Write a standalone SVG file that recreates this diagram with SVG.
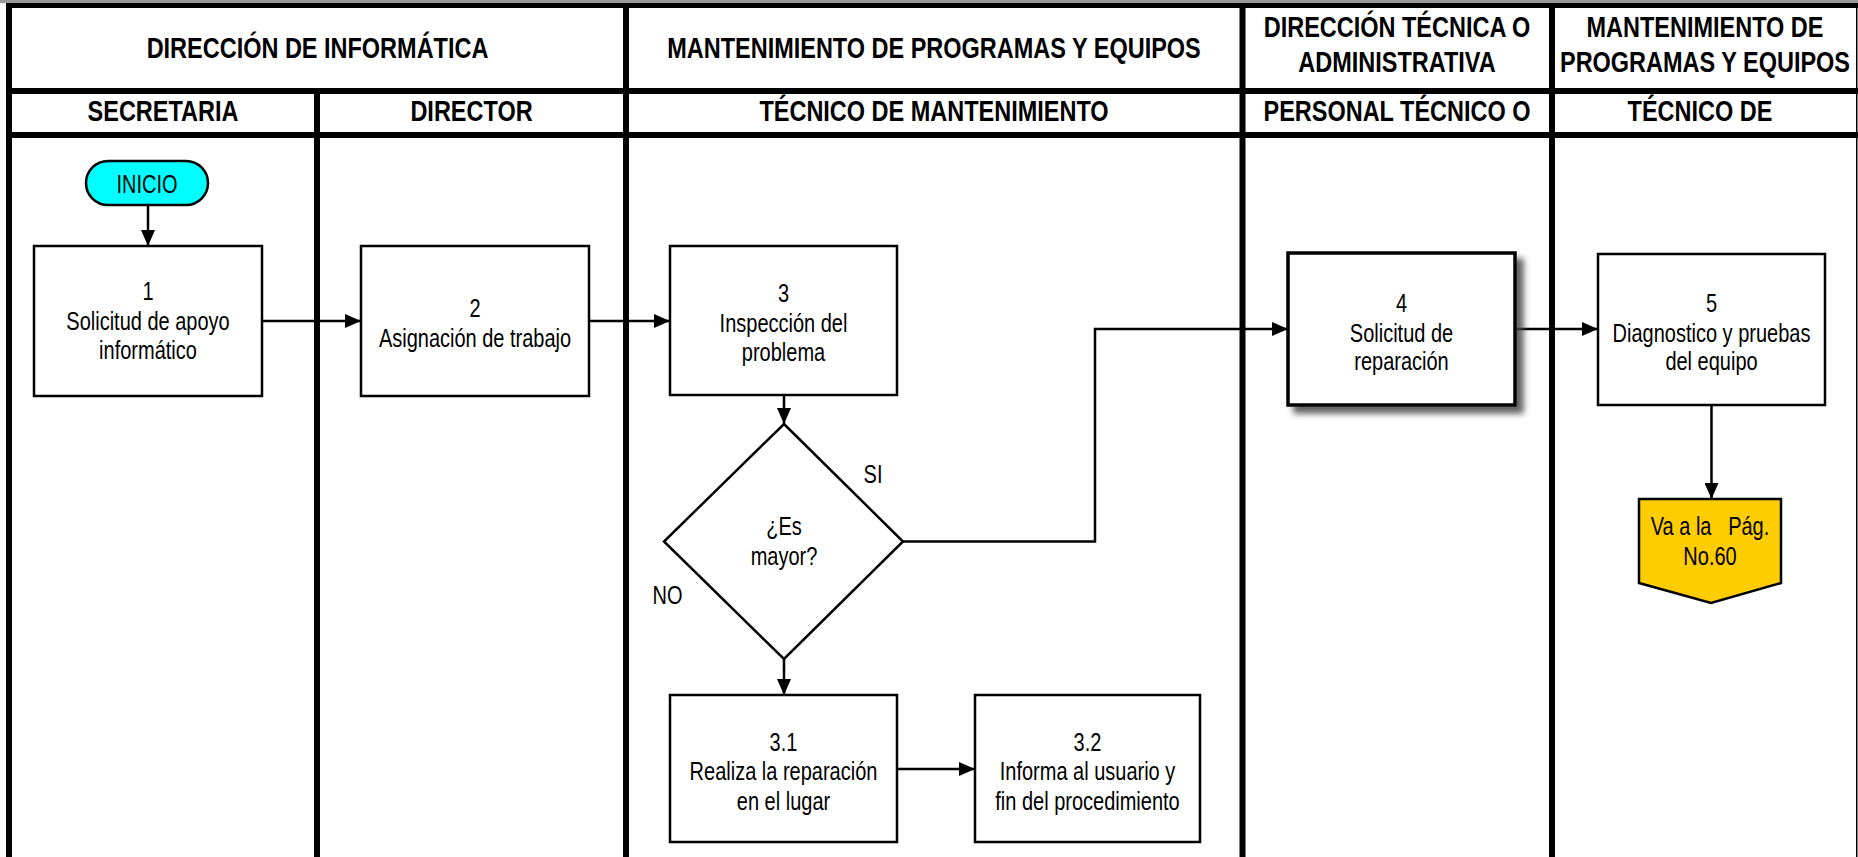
<svg xmlns="http://www.w3.org/2000/svg" width="1858" height="857" viewBox="0 0 1858 857">
<style>
.t{font-family:"Liberation Sans",Arial,sans-serif;font-size:25px;fill:#000;text-anchor:middle}
.h{font-family:"Liberation Sans",Arial,sans-serif;font-size:29px;font-weight:bold;fill:#000;text-anchor:middle}
.box{fill:#fff;stroke:#000;stroke-width:2.5}
.ln{fill:#000}
.c{fill:none;stroke:#000;stroke-width:2.5}
.ca{fill:none;stroke:#000;stroke-width:2.5;marker-end:url(#ah)}
</style>
<defs>
<marker id="ah" viewBox="0 0 16 14" refX="16" refY="7" markerWidth="16" markerHeight="14" markerUnits="userSpaceOnUse" orient="auto">
<path d="M0,0 L16,7 L0,14 z" fill="#000"/>
</marker>
<filter id="sh" x="-10%" y="-10%" width="130%" height="130%">
<feDropShadow dx="7" dy="7" stdDeviation="3" flood-color="#444" flood-opacity="0.85"/>
</filter>
</defs>
<rect width="1858" height="857" fill="#fff"/>
<g id="grid">
<rect x="0" y="0" width="1858" height="3" fill="#999"/>
<rect class="ln" x="6" y="3" width="1852" height="5"/>
<rect class="ln" x="6" y="88" width="1852" height="6"/>
<rect class="ln" x="6" y="132" width="1852" height="6"/>
<rect class="ln" x="6" y="3" width="6" height="854"/>
<rect class="ln" x="314" y="88" width="6" height="769"/>
<rect class="ln" x="623" y="3" width="6" height="854"/>
<rect class="ln" x="1239.5" y="3" width="6" height="854"/>
<rect class="ln" x="1549" y="3" width="6" height="854"/>
<rect class="ln" x="1856" y="3" width="1.5" height="854"/>
</g>
<g id="headers">
<text class="h" transform="translate(317.5,58) scale(.81,1)">DIRECCIÓN DE INFORMÁTICA</text>
<text class="h" transform="translate(934,58) scale(.81,1)">MANTENIMIENTO DE PROGRAMAS Y EQUIPOS</text>
<text class="h" transform="translate(1397,37) scale(.81,1)"><tspan x="0" y="0">DIRECCIÓN TÉCNICA O</tspan><tspan x="0" y="35">ADMINISTRATIVA</tspan></text>
<text class="h" transform="translate(1705,37) scale(.81,1)"><tspan x="0" y="0">MANTENIMIENTO DE</tspan><tspan x="0" y="35">PROGRAMAS Y EQUIPOS</tspan></text>
<text class="h" transform="translate(163,121) scale(.81,1)">SECRETARIA</text>
<text class="h" transform="translate(471.5,121) scale(.81,1)">DIRECTOR</text>
<text class="h" transform="translate(934,121) scale(.81,1)">TÉCNICO DE MANTENIMIENTO</text>
<text class="h" transform="translate(1397,121) scale(.81,1)">PERSONAL TÉCNICO O</text>
<text class="h" transform="translate(1700,121) scale(.81,1)">TÉCNICO DE</text>
</g>
<g id="connectors">
<path class="ca" d="M148,205 V246"/>
<path class="ca" d="M262,321 H361"/>
<path class="ca" d="M589,321 H670"/>
<path class="ca" d="M784,395 V424"/>
<path class="ca" d="M903,541.5 H1095 V329 H1288"/>
<path class="ca" d="M784,659 V695"/>
<path class="ca" d="M897,769 H975"/>
<path class="ca" d="M1515,329 H1598"/>
<path class="ca" d="M1711.5,405 V499"/>
<text class="t" transform="translate(873,483) scale(.8,1)">SI</text>
<text class="t" transform="translate(667.5,604) scale(.8,1)">NO</text>
</g>
<g id="inicio">
<rect x="86" y="161" width="122" height="44" rx="22" fill="#00FFFF" stroke="#000" stroke-width="2.5"/>
<text class="t" transform="translate(147,193) scale(.8,1)">INICIO</text>
</g>
<g id="n1">
<rect class="box" x="34" y="246" width="228" height="150"/>
<text class="t" transform="translate(148,300) scale(.8,1)"><tspan x="0" y="0">1</tspan><tspan x="0" y="30">Solicitud de apoyo</tspan><tspan x="0" y="59">informático</tspan></text>
</g>
<g id="n2">
<rect class="box" x="361" y="246" width="228" height="150"/>
<text class="t" transform="translate(475,317) scale(.8,1)"><tspan x="0" y="0">2</tspan><tspan x="0" y="30">Asignación de trabajo</tspan></text>
</g>
<g id="n3">
<rect class="box" x="670" y="246" width="227" height="149"/>
<text class="t" transform="translate(783.5,302) scale(.8,1)"><tspan x="0" y="0">3</tspan><tspan x="0" y="30">Inspección del</tspan><tspan x="0" y="59">problema</tspan></text>
</g>
<g id="d1">
<polygon points="784,424 903,541.5 784,659 664,541.5" fill="#fff" stroke="#000" stroke-width="2.5"/>
<text class="t" transform="translate(784,535) scale(.8,1)"><tspan x="0" y="0">¿Es</tspan><tspan x="0" y="30">mayor?</tspan></text>
</g>
<g id="n31">
<rect class="box" x="670" y="695" width="227" height="147"/>
<text class="t" transform="translate(783.5,751) scale(.8,1)"><tspan x="0" y="0">3.1</tspan><tspan x="0" y="29">Realiza la reparación</tspan><tspan x="0" y="59">en el lugar</tspan></text>
</g>
<g id="n32">
<rect class="box" x="975" y="695" width="225" height="147"/>
<text class="t" transform="translate(1087.5,751) scale(.8,1)"><tspan x="0" y="0">3.2</tspan><tspan x="0" y="29">Informa al usuario y</tspan><tspan x="0" y="59">fin del procedimiento</tspan></text>
</g>
<g id="n4">
<rect x="1288" y="253" width="227" height="152" fill="#fff" stroke="#000" stroke-width="3.5" filter="url(#sh)"/>
<text class="t" transform="translate(1401.5,312) scale(.8,1)"><tspan x="0" y="0">4</tspan><tspan x="0" y="30">Solicitud de</tspan><tspan x="0" y="58">reparación</tspan></text>
</g>
<g id="n5">
<rect class="box" x="1598" y="254" width="227" height="151"/>
<text class="t" transform="translate(1711.5,312) scale(.8,1)"><tspan x="0" y="0">5</tspan><tspan x="0" y="30">Diagnostico y pruebas</tspan><tspan x="0" y="58">del equipo</tspan></text>
</g>
<g id="offpage">
<polygon points="1639,499 1781,499 1781,583 1711,603 1639,583" fill="#FFCC00" stroke="#000" stroke-width="2.5"/>
<text class="t" transform="translate(1710,535) scale(.8,1)" xml:space="preserve"><tspan x="0" y="0">Va a la   Pág.</tspan><tspan x="0" y="30">No.60</tspan></text>
</g>
</svg>
